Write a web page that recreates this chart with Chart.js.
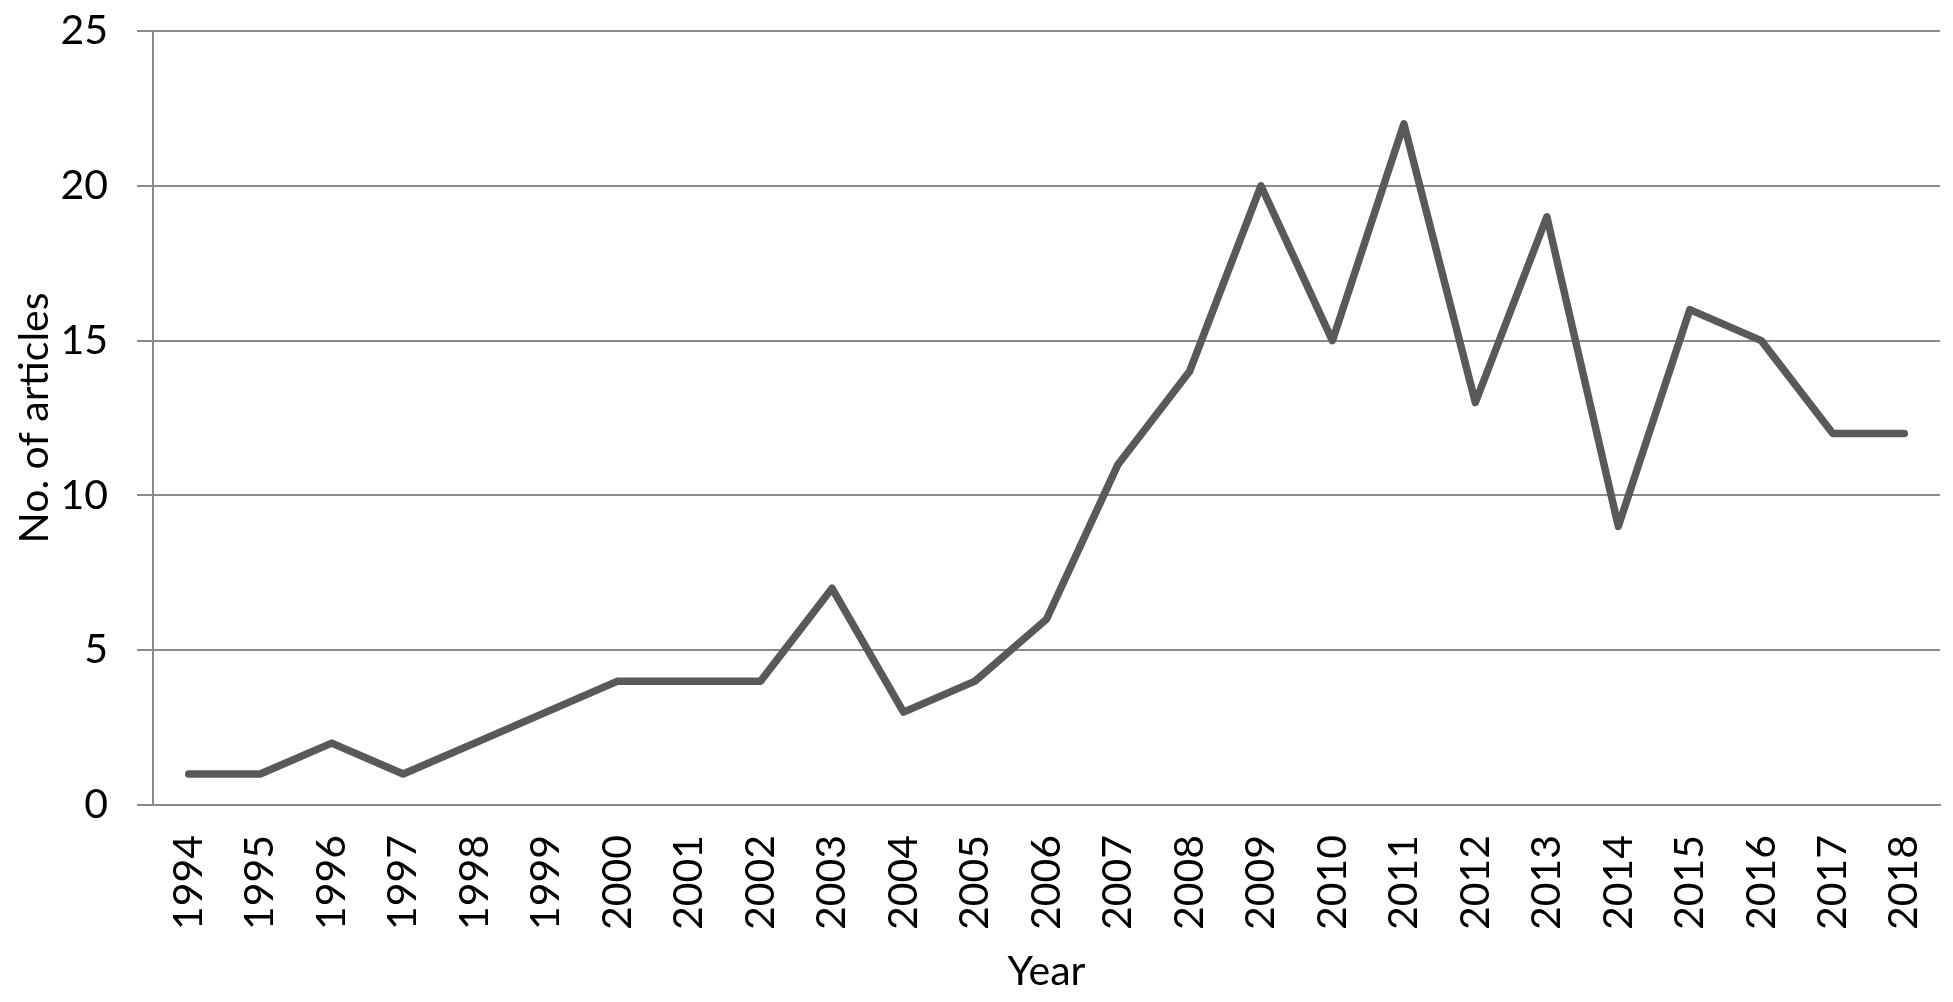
<!DOCTYPE html>
<html lang="en">
<head>
    <meta charset="UTF-8">
    <title>No. of articles per year</title>
    <script src="https://cdn.jsdelivr.net/npm/chart.js"></script>
    <style>
        html, body { margin: 0; padding: 0; background: #fff; }
        #wrap { width: 1953px; height: 1002px; }
    </style>
</head>
<body>
    <div id="wrap"><canvas id="articlesChart"></canvas></div>
    <script>
        const years = ['1994', '1995', '1996', '1997', '1998', '1999', '2000', '2001', '2002', '2003',
            '2004', '2005', '2006', '2007', '2008', '2009', '2010', '2011', '2012', '2013',
            '2014', '2015', '2016', '2017', '2018'];
        const articles = [1, 1, 2, 1, 2, 3, 4, 4, 4, 7, 3, 4, 6, 11, 14, 20, 15, 22, 13, 19, 9, 16, 15, 12, 12];
        const yTicks = [0, 5, 10, 15, 20, 25];

        const gridGrey = '#8a8a8a';
        const font = 'Lato, "Open Sans", sans-serif';

        const ctx = document.getElementById('articlesChart').getContext('2d');
        new Chart(ctx, {
            type: 'line',
            data: {
                labels: years,
                datasets: [{
                    label: 'No. of articles',
                    data: articles,
                    borderColor: '#595959',
                    borderWidth: 7.5,
                    borderCapStyle: 'round',
                    borderJoinStyle: 'round',
                    pointRadius: 0,
                    tension: 0,
                    fill: false
                }]
            },
            options: {
                responsive: true,
                maintainAspectRatio: false,
                animation: false,
                layout: { padding: { top: 31, right: 13, left: 0, bottom: 0 } },
                plugins: {
                    legend: { display: false },
                    tooltip: { enabled: false }
                },
                scales: {
                    x: {
                        offset: true,
                        grid: { display: false, drawTicks: false },
                        border: { display: true, color: gridGrey, width: 2 },
                        ticks: {
                            autoSkip: false,
                            maxRotation: 90,
                            minRotation: 90,
                            padding: 30,
                            color: '#000',
                            font: { family: font, size: 41 }
                        },
                        title: {
                            display: true,
                            text: 'Year',
                            color: '#000',
                            font: { family: font, size: 41 },
                            padding: { top: 0, bottom: 6 }
                        },
                        afterFit: function(scale) {
                            scale.height = 197;
                            scale.paddingLeft = 0;
                            scale.paddingRight = 0;
                        }
                    },
                    y: {
                        min: 0,
                        max: 25,
                        afterBuildTicks: function(scale) {
                            scale.ticks = yTicks.map(v => ({ value: v }));
                        },
                        grid: { color: gridGrey, lineWidth: 2, tickLength: 16, drawTicks: true },
                        border: { display: true, color: gridGrey, width: 2 },
                        ticks: {
                            padding: 29,
                            color: '#000',
                            font: { family: font, size: 41 }
                        },
                        title: {
                            display: true,
                            text: 'No. of articles',
                            color: '#000',
                            font: { family: font, size: 41 },
                            padding: { top: 10, bottom: 0 }
                        },
                        afterFit: function(scale) {
                            scale.width = 153;
                            scale.paddingTop = 0;
                            scale.paddingBottom = 0;
                        }
                    }
                }
            }
        });
    </script>
</body>
</html>
